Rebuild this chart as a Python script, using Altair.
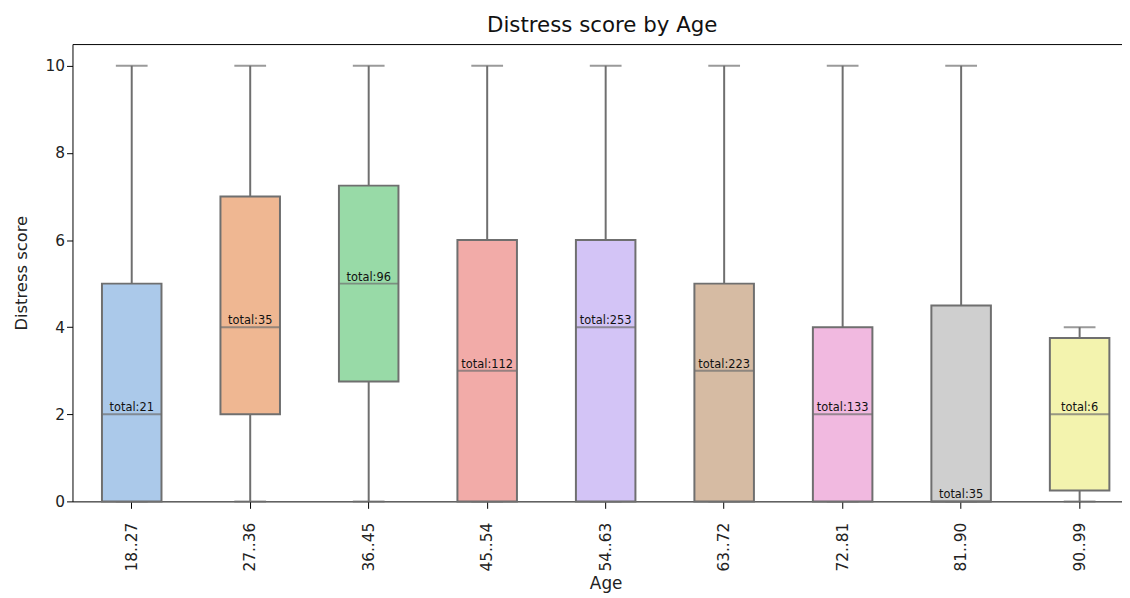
import colorsys
import altair as alt
import pandas as pd

# ---- data ----
ages = ["18..27", "27..36", "36..45", "45..54", "54..63", "63..72", "72..81", "81..90", "90..99"]
whisker_low = [0, 0, 0, 0, 0, 0, 0, 0, 0]
q1 = [0, 2, 2.75, 0, 0, 0, 0, 0, 0.25]
median = [2, 4, 5, 3, 4, 3, 2, 0, 2]
q3 = [5, 7, 7.25, 6, 6, 5, 4, 4.5, 3.75]
whisker_high = [10, 10, 10, 10, 10, 10, 10, 10, 4]
totals = [21, 35, 96, 112, 253, 223, 133, 35, 6]

# seaborn "pastel" palette, desaturated to 0.75 as seaborn boxplot does
pastel = ["#a1c9f4", "#ffb482", "#8de5a1", "#ff9f9b", "#d0bbff",
          "#debb9b", "#fab0e4", "#cfcfcf", "#fffea3"]


def desat(hexc, prop=0.75):
    r, g, b = (int(hexc[i:i + 2], 16) / 255 for i in (1, 3, 5))
    h, l, s = colorsys.rgb_to_hls(r, g, b)
    r, g, b = colorsys.hls_to_rgb(h, l, s * prop)
    return "#%02x%02x%02x" % tuple(round(v * 255) for v in (r, g, b))


colors = [desat(c) for c in pastel]
edge = "#6f6f6f"
FONT = "DejaVu Sans"

df = pd.DataFrame({
    "Age": ages, "lo": whisker_low, "q1": q1, "med": median,
    "q3": q3, "hi": whisker_high, "total": totals,
})
df["label"] = ["total:%d" % t for t in totals]

xscale = alt.Scale(domain=ages, range=[0, 1075], paddingInner=0, paddingOuter=0)
yscale = alt.Scale(domain=[0, 10.5], nice=False, zero=True)

base = alt.Chart(df)

x_bottom = alt.X("Age:N", scale=xscale, sort=ages, title="Age",
                 axis=alt.Axis(orient="bottom", labelAngle=-90, labelFontSize=15.5,
                               labelColor="#222", tickSize=7, tickColor="black",
                               domainColor="black", labelPadding=14,
                               titleFontSize=17, titleFontWeight="normal",
                               titleColor="#222", titlePadding=5))
x_top = alt.X("Age:N", scale=xscale, sort=ages, title=None,
              axis=alt.Axis(orient="top", labels=False, ticks=False,
                            domainColor="black"))
x_plain = alt.X("Age:N", scale=xscale, sort=ages, axis=None)

whisk = base.mark_rule(color=edge, strokeWidth=2).encode(
    x=x_top,
    y=alt.Y("lo:Q", scale=yscale, title="Distress score",
            axis=alt.Axis(values=[0, 2, 4, 6, 8, 10], grid=False, labelFontSize=15.5,
                          labelColor="#222", tickSize=6, tickColor="black",
                          domainColor="black", titleFontSize=16.5,
                          titleFontWeight="normal", titleColor="#222",
                          titlePadding=16)),
    y2="hi:Q",
)

caps = base.transform_fold(["lo", "hi"], as_=["which", "val"]).mark_tick(
    color=edge, size=32, thickness=2, orient="horizontal").encode(
    x=x_plain, y=alt.Y("val:Q", scale=yscale),
)

boxes = base.mark_bar(size=60, stroke=edge, strokeWidth=2).encode(
    x=x_bottom,
    y=alt.Y("q1:Q", scale=yscale),
    y2="q3:Q",
    color=alt.Color("Age:N", scale=alt.Scale(domain=ages, range=colors), legend=None),
)

med = base.mark_tick(color=edge, size=60, thickness=2, orient="horizontal").encode(
    x=x_plain, y=alt.Y("med:Q", scale=yscale),
)

labels = base.mark_text(fontSize=11.5, font=FONT, color="#111", baseline="bottom", dy=-1).encode(
    x=x_plain, y=alt.Y("med:Q", scale=yscale), text="label:N",
)

chart = alt.layer(whisk, caps, boxes, med, labels).resolve_axis(x="independent").properties(
    width=1050, height=461,
    title=alt.Title("Distress score by Age", fontSize=21.5, fontWeight="normal",
                    font=FONT, color="#111", offset=8, dx=9),
    autosize=alt.AutoSizeParams(type="none"),
    padding={"left": 65, "top": 34, "right": 8, "bottom": 92},
).configure(font=FONT).configure_view(stroke=None)

chart.save("out.html", embed_options={"renderer": "svg", "actions": False})
